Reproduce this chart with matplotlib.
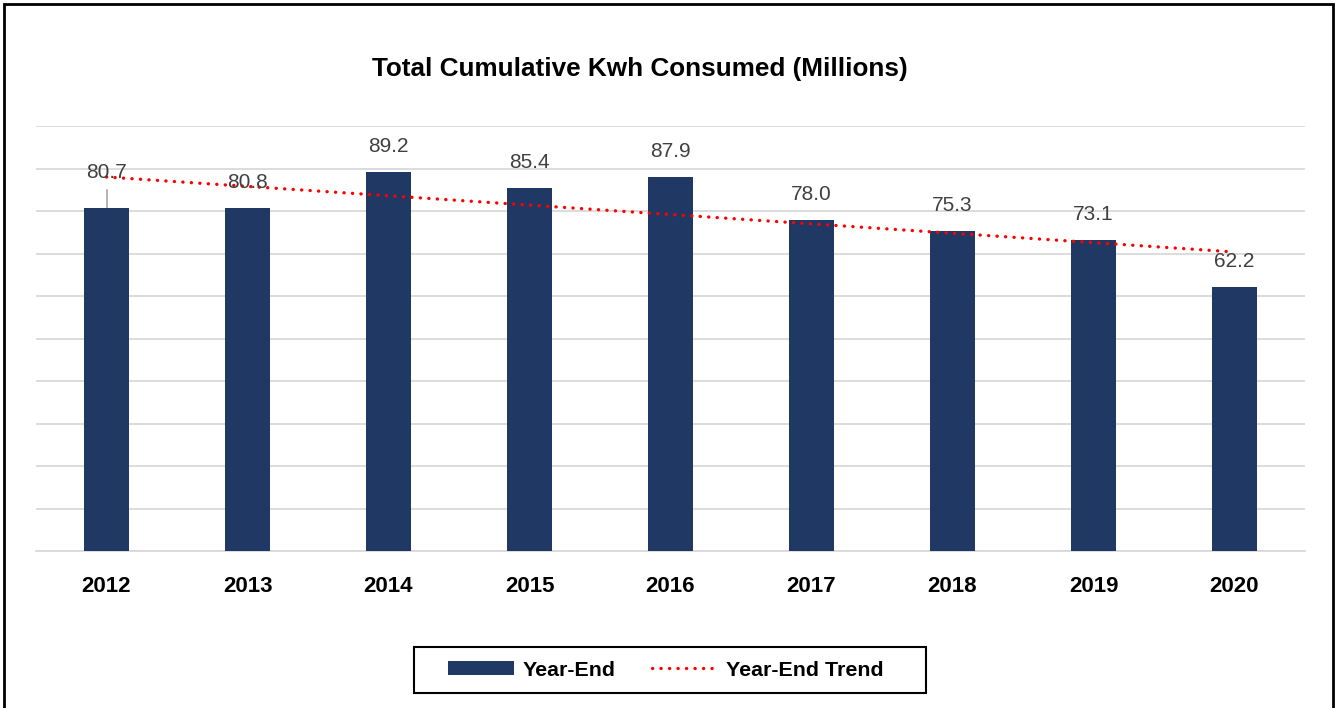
import numpy as np
import matplotlib.pyplot as plt
from matplotlib.patches import Rectangle

plt.rcParams['font.family'] = ['Liberation Sans', 'DejaVu Sans']

years = ['2012', '2013', '2014', '2015', '2016', '2017', '2018', '2019', '2020']
kwh = [80.7, 80.8, 89.2, 85.4, 87.9, 78.0, 75.3, 73.1, 62.2]

bar_color = '#203864'
W, H = 1336, 708

fig = plt.figure(figsize=(W / 100, H / 100), dpi=100)
ax = fig.add_axes([36 / W, 1 - 551 / H, (1305 - 36) / W, (551 - 126) / H])

x = np.arange(len(years))
ax.bar(x, kwh, width=0.32, color=bar_color, zorder=3, label='Year-End')

# linear trend
k, b = np.polyfit(x, kwh, 1)
dots = (0, (0.05, 2.5))
ax.plot(x, k * x + b, color='red', linestyle=dots, linewidth=2.4,
        dash_capstyle='round', zorder=4, label='Year-End Trend')

for i, v in enumerate(kwh):
    if i == 0:
        ax.plot([i, i], [v + 0.1, v + 4.2], color='#a6a6a6', lw=1.2, zorder=2)
        ax.text(i, v + 8.3, f'{v:.1f}', ha='center', va='center',
                fontsize=15, color='#404040', zorder=5)
    else:
        ax.text(i, v + 6.0, f'{v:.1f}', ha='center', va='center',
                fontsize=15, color='#404040', zorder=5)

ax.set_xlim(-0.5, len(years) - 0.5)
ax.set_ylim(0, 100)
ax.set_yticks(np.arange(0, 101, 10))
ax.set_yticklabels([])
ax.tick_params(axis='y', length=0)
ax.grid(axis='y', color='#d9d9d9', linewidth=1.3, zorder=0)
ax.set_xticks(x)
ax.set_xticklabels(years, fontsize=16, fontweight='bold')
ax.tick_params(axis='x', length=0, pad=18)
for s in ['top', 'right', 'left']:
    ax.spines[s].set_visible(False)
ax.spines['bottom'].set_color('#d9d9d9')
ax.spines['bottom'].set_linewidth(1.3)

fig.text(640 / W, 1 - 69 / H, 'Total Cumulative Kwh Consumed (Millions)',
         ha='center', va='center', fontsize=18.8, fontweight='bold')

handles, labels = ax.get_legend_handles_labels()
order = [labels.index('Year-End'), labels.index('Year-End Trend')]
leg = fig.legend([handles[j] for j in order], [labels[j] for j in order],
                 loc='center', bbox_to_anchor=(666 / W, 1 - 670 / H), ncol=2,
                 frameon=False, prop={'weight': 'bold', 'size': 15.4},
                 handlelength=3.1, handleheight=0.6, handletextpad=0.37,
                 columnspacing=1.73, borderpad=0, borderaxespad=0)

# legend box
fig.patches.append(Rectangle((414 / W, 1 - 693 / H), 512 / W, 46 / H,
                             transform=fig.transFigure, fill=False,
                             edgecolor='black', linewidth=1.5))
# outer border
fig.patches.append(Rectangle((4 / W, -0.05), (1333 - 4) / W, 1.05 - 4 / H,
                             transform=fig.transFigure, fill=False,
                             edgecolor='black', linewidth=2))

fig.savefig('out.png', dpi=100)
